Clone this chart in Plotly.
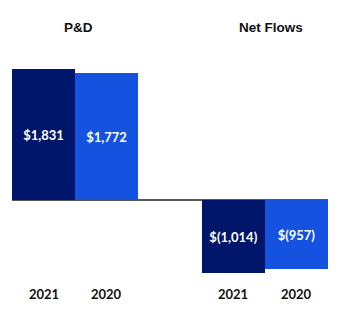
import plotly.graph_objects as go

groups = ["P&D", "Net Flows"]
years = ["2021", "2020", "2021", "2020"]
values = [1831, 1772, -1014, -957]
labels = ["$1,831", "$1,772", "$(1,014)", "$(957)"]
colors = ["#00166B", "#1452DF", "#00166B", "#1452DF"]
xpos = [0, 1, 3, 4]

lblfont = "Liberation Sans Narrow, Lato"

fig = go.Figure()
fig.add_trace(go.Bar(
    x=xpos, y=values, width=1,
    marker=dict(color=colors, line=dict(width=0)),
    text=["<b>%s</b>" % l for l in labels],
    textposition="inside", insidetextanchor="middle",
    textfont=dict(family=lblfont, size=13, color="white"),
    hoverinfo="skip",
))

for xi, yr in zip(xpos, years):
    fig.add_annotation(x=xi, y=-0.058, xref="x", yref="paper", text="<b>%s</b>" % yr,
                       showarrow=False, font=dict(family=lblfont, size=13, color="#111111"),
                       yanchor="middle")

fig.add_annotation(x=0.55, y=1.05, xref="x", yref="paper", text="<b>%s</b>" % groups[0],
                   showarrow=False, font=dict(family="Liberation Sans", size=13.5, color="#111111"),
                   yanchor="middle")
fig.add_annotation(x=3.6, y=1.05, xref="x", yref="paper", text="<b>%s</b>" % groups[1],
                   showarrow=False, font=dict(family="Liberation Sans", size=13.5, color="#111111"),
                   yanchor="middle")

fig.update_layout(
    width=340, height=328,
    margin=dict(l=12, r=12, t=40, b=48),
    paper_bgcolor="white", plot_bgcolor="white",
    showlegend=False,
    xaxis=dict(range=[-0.5, 4.5], showticklabels=False, showgrid=False, zeroline=False, fixedrange=True),
    yaxis=dict(range=[-1114, 2228], showticklabels=False, showgrid=False,
               zeroline=True, zerolinecolor="#5A5A5A", zerolinewidth=2),
    bargap=0,
)

fig.write_html("out.html")
